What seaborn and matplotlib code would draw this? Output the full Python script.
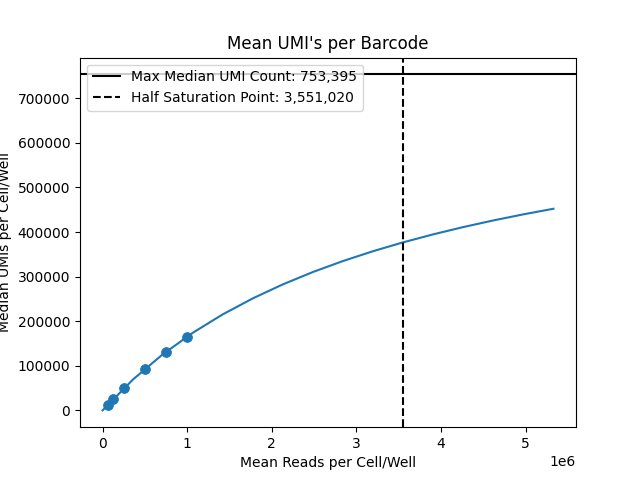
import numpy as np
import pandas as pd
import seaborn as sns
import matplotlib
matplotlib.use("Agg")
import matplotlib.pyplot as plt

# observed subsample points
reads_obs = [62500, 125000, 250000, 500000, 750000, 1000000]
umis_obs = [13000, 25000, 50000, 92000, 130000, 165000]

# fitted curve
reads_fit = [0, 360000, 710000, 1070000, 1420000, 1780000, 2130000, 2490000,
             2840000, 3200000, 3550000, 3910000, 4260000, 4620000, 4970000, 5330000]
umis_fit = [0, 69350, 125540, 174450, 215210, 251560, 282470, 310540,
            334790, 357110, 376650, 394820, 410890, 425980, 439430, 452150]

max_umi = 753395
half_sat = 3551020

fig, ax = plt.subplots(figsize=(6.4, 4.8), dpi=100)
sns.lineplot(x=reads_fit, y=umis_fit, ax=ax, color="C0")
sns.scatterplot(x=reads_obs, y=umis_obs, ax=ax, color="C0", s=50, edgecolor="C0", zorder=3)
ax.axhline(max_umi, color="black", linestyle="-", label=f"Max Median UMI Count: {max_umi:,}")
ax.axvline(half_sat, color="black", linestyle="--", label=f"Half Saturation Point: {half_sat:,}")
ax.set_title("Mean UMI's per Barcode")
ax.set_xlabel("Mean Reads per Cell/Well")
ax.set_ylabel("Median UMIs per Cell/Well")
ax.legend(loc="upper left")
fig.savefig("out.png")
